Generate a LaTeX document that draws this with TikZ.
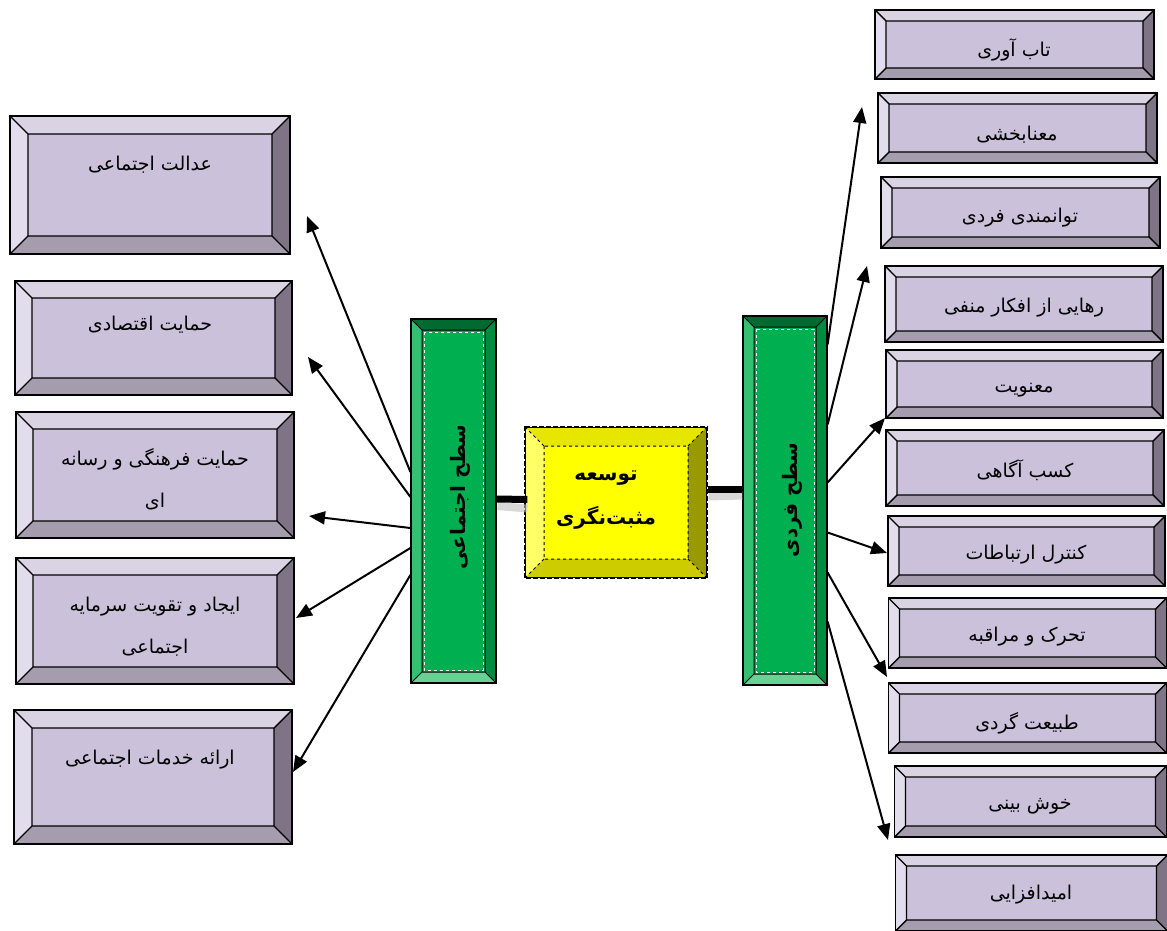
\documentclass[tikz,border=0pt]{standalone}
\usepackage{fontspec}
\usetikzlibrary{arrows.meta}
\TeXXeTstate=1
\newfontfamily\fa[Script=Arabic]{DejaVu Sans}
\definecolor{lavface}{HTML}{CCC1DA}
\definecolor{lavtop}{HTML}{DAD3E4}
\definecolor{lavleft}{HTML}{E2DDEC}
\definecolor{lavright}{HTML}{7E7486}
\definecolor{lavbot}{HTML}{A59CAE}
\definecolor{grface}{HTML}{00B050}
\definecolor{grtop}{HTML}{006A30}
\definecolor{grleft}{HTML}{33C070}
\definecolor{grright}{HTML}{008A3F}
\definecolor{grbot}{HTML}{66D294}
\definecolor{yeface}{HTML}{FFFF00}
\definecolor{yetop}{HTML}{E6E600}
\definecolor{yeleft}{HTML}{FFFF66}
\definecolor{yeright}{HTML}{999900}
\definecolor{yebot}{HTML}{CCCC00}
\tikzset{
 bev/.style n args={6}{path picture={
   \path (path picture bounding box.north west) coordinate (pNW)
         (path picture bounding box.north east) coordinate (pNE)
         (path picture bounding box.south west) coordinate (pSW)
         (path picture bounding box.south east) coordinate (pSE);
   \path ([shift={(#1,-#1)}]pNW) coordinate (qNW)
         ([shift={(-#1,-#1)}]pNE) coordinate (qNE)
         ([shift={(#1,#1)}]pSW) coordinate (qSW)
         ([shift={(-#1,#1)}]pSE) coordinate (qSE);
   \fill[#2] (pNW) -- (pNE) -- (qNE) -- (qNW) -- cycle;
   \fill[#3] (pNW) -- (qNW) -- (qSW) -- (pSW) -- cycle;
   \fill[#4] (pNE) -- (qNE) -- (qSE) -- (pSE) -- cycle;
   \fill[#5] (pSW) -- (qSW) -- (qSE) -- (pSE) -- cycle;
   \draw[#6] (qNW) rectangle (qSE) (pNW) -- (qNW) (pNE) -- (qNE) (pSW) -- (qSW) (pSE) -- (qSE);
 }},
 lavbox/.style={draw=black, line width=1.6pt, fill=lavface, inner sep=0pt,
   bev={#1}{lavtop}{lavleft}{lavright}{lavbot}{black,line width=1.4pt}},
 grbox/.style={draw=black, line width=1.2pt, fill=grface, inner sep=0pt,
   bev={11pt}{grtop}{grleft}{grright}{grbot}{black,line width=1pt}},
 yebox/.style={draw=black, line width=1.2pt, fill=yeface, inner sep=0pt,
   bev={19pt}{yetop}{yeleft}{yeright}{yebot}{black,line width=1pt,dashed}},
 txt/.style={font=\fa\fontsize{19}{42}\selectfont, align=center, inner sep=0pt},
 btxt/.style={font=\fa\bfseries\fontsize{20}{44}\selectfont, align=center, inner sep=0pt},
 arr/.style={line width=2pt, -{Triangle[length=16pt,width=13pt]}},
 thickconn/.style={line width=7pt},
 shadowconn/.style={line width=8pt, black!25, opacity=0.6},
}
\begin{document}
\begin{tikzpicture}[x=1pt,y=-1pt]
\useasboundingbox (0,0) rectangle (1167,931);
\fill[white] (0,0) rectangle (1167,931);

% left boxes
\node[lavbox=18pt, minimum width=280pt, minimum height=138pt] (L1) at (150,185) {};
\node[lavbox=17pt, minimum width=277pt, minimum height=114pt] (L2) at (153.5,338) {};
\node[lavbox=17pt, minimum width=278pt, minimum height=126pt] (L3) at (155,475) {};
\node[lavbox=17pt, minimum width=278pt, minimum height=126pt] (L4) at (155,621) {};
\node[lavbox=18pt, minimum width=278pt, minimum height=134pt] (L5) at (153,777) {};
\node[txt] (tL1) at (150,165) {\beginR عدالت اجتماعی\endR};
\node[txt] (tL2) at (150,325) {\beginR حمایت اقتصادی\endR};
\node[txt] (tL3) at (155,479) {\beginR حمایت فرهنگی و رسانه\endR\\\beginR ای\endR};
\node[txt] (tL4) at (155,627) {\beginR ایجاد و تقویت سرمایه\endR\\\beginR اجتماعی\endR};
\node[txt] (tL5) at (150,760) {\beginR ارائه خدمات اجتماعی\endR};

% right boxes
\node[lavbox=11pt, minimum width=279pt, minimum height=69pt] (R1) at (1014.5,44.5) {};
\node[lavbox=11pt, minimum width=279pt, minimum height=70pt] (R2) at (1017.5,128) {};
\node[lavbox=11pt, minimum width=279pt, minimum height=71pt] (R3) at (1020.5,212.5) {};
\node[lavbox=11pt, minimum width=278pt, minimum height=76pt] (R4) at (1024,304) {};
\node[lavbox=11pt, minimum width=277pt, minimum height=68pt] (R5) at (1024.5,384) {};
\node[lavbox=11pt, minimum width=278pt, minimum height=76pt] (R6) at (1025,468) {};
\node[lavbox=11pt, minimum width=277pt, minimum height=70pt] (R7) at (1026.5,551) {};
\node[lavbox=11pt, minimum width=278pt, minimum height=70pt] (R8) at (1027.5,633) {};
\node[lavbox=11pt, minimum width=278pt, minimum height=70pt] (R9) at (1027.5,718) {};
\node[lavbox=11pt, minimum width=272pt, minimum height=71pt] (R10) at (1030.5,801.5) {};
\node[lavbox=11pt, minimum width=272pt, minimum height=76pt] (R11) at (1031.5,893) {};
\node[txt] (tR1) at (1014,50) {\beginR تاب آوری\endR};
\node[txt] (tR2) at (1017,135) {\beginR معنابخشی\endR};
\node[txt] (tR3) at (1020,218) {\beginR توانمندی فردی\endR};
\node[txt] (tR4) at (1024,308) {\beginR رهایی از افکار منفی\endR};
\node[txt] (tR5) at (1024,390) {\beginR معنویت\endR};
\node[txt] (tR6) at (1025,470) {\beginR کسب آگاهی\endR};
\node[txt] (tR7) at (1026,555) {\beginR کنترل ارتباطات\endR};
\node[txt] (tR8) at (1027,637) {\beginR تحرک و مراقبه\endR};
\node[txt] (tR9) at (1027,723) {\beginR طبیعت گردی\endR};
\node[txt] (tR10) at (1030,806) {\beginR خوش بینی\endR};
\node[txt] (tR11) at (1031,895) {\beginR امیدافزایی\endR};

% green bars and center
\node[grbox, minimum width=85pt, minimum height=364pt] (GL) at (453.5,501) {};
\node[grbox, minimum width=84pt, minimum height=369pt] (GR) at (785,500.5) {};
\draw[white, line width=0.8pt, dash pattern=on 3pt off 3pt] (424,332) rectangle (483,670);
\draw[white, line width=0.8pt, dash pattern=on 3pt off 3pt] (756,329) rectangle (814,672);
\node[btxt, rotate=90] (tGL) at (460,497) {\beginR سطح اجتماعی\endR};
\node[btxt, rotate=90] (tGR) at (792,500) {\beginR سطح فردی\endR};

\node[yebox, minimum width=182pt, minimum height=151pt] (Y) at (616,502.5) {};
\draw[white, line width=1.2pt] (Y.north west) rectangle (Y.south east);
\draw[black, line width=1.2pt, dash pattern=on 5pt off 2pt] (Y.north west) rectangle (Y.south east);
\node[btxt] (tY) at (606,500) {\beginR توسعه\endR\\\beginR مثبت‌نگری\endR};

% thick connectors
\draw[shadowconn] ([shift={(1pt,-5pt)}]GL.east) -- ([shift={(3pt,-6pt)}]Y.west);
\draw[thickconn] ([yshift=2pt]GL.east) -- ([shift={(3pt,3pt)}]Y.west);
\draw[shadowconn] ([shift={(1pt,6pt)}]Y.east) -- ([yshift=5pt]GR.west);
\draw[thickconn] ([yshift=13pt]Y.east) -- ([yshift=11pt]GR.west);

% arrow tips
\coordinate (a1) at (307,216);
\coordinate (a2) at (308,357);
\coordinate (a3) at (309,516);
\coordinate (a4) at (296,618);
\coordinate (a5) at (293,772);
\coordinate (b1) at (862,107);
\coordinate (b2) at (867,266);
\coordinate (b3) at (885,418);
\coordinate (b4) at (887,553);
\coordinate (b5) at (887,677);
\coordinate (b6) at (888,840);

\draw[arr] ([yshift=29pt]GL.west) -- (a1);
\draw[arr] ([yshift=4pt]GL.west) -- (a2);
\draw[arr] ([yshift=-27pt]GL.west) -- (a3);
\draw[arr] ([yshift=-47pt]GL.west) -- (a4);
\draw[arr] ([yshift=-74pt]GL.west) -- (a5);

\draw[arr] ([yshift=156pt]GR.east) -- (b1);
\draw[arr] ([yshift=76pt]GR.east) -- (b2);
\draw[arr] ([yshift=18pt]GR.east) -- (b3);
\draw[arr] ([yshift=-32pt]GR.east) -- (b4);
\draw[arr] ([yshift=-72pt]GR.east) -- (b5);
\draw[arr] ([yshift=-121pt]GR.east) -- (b6);
\end{tikzpicture}
\end{document}
